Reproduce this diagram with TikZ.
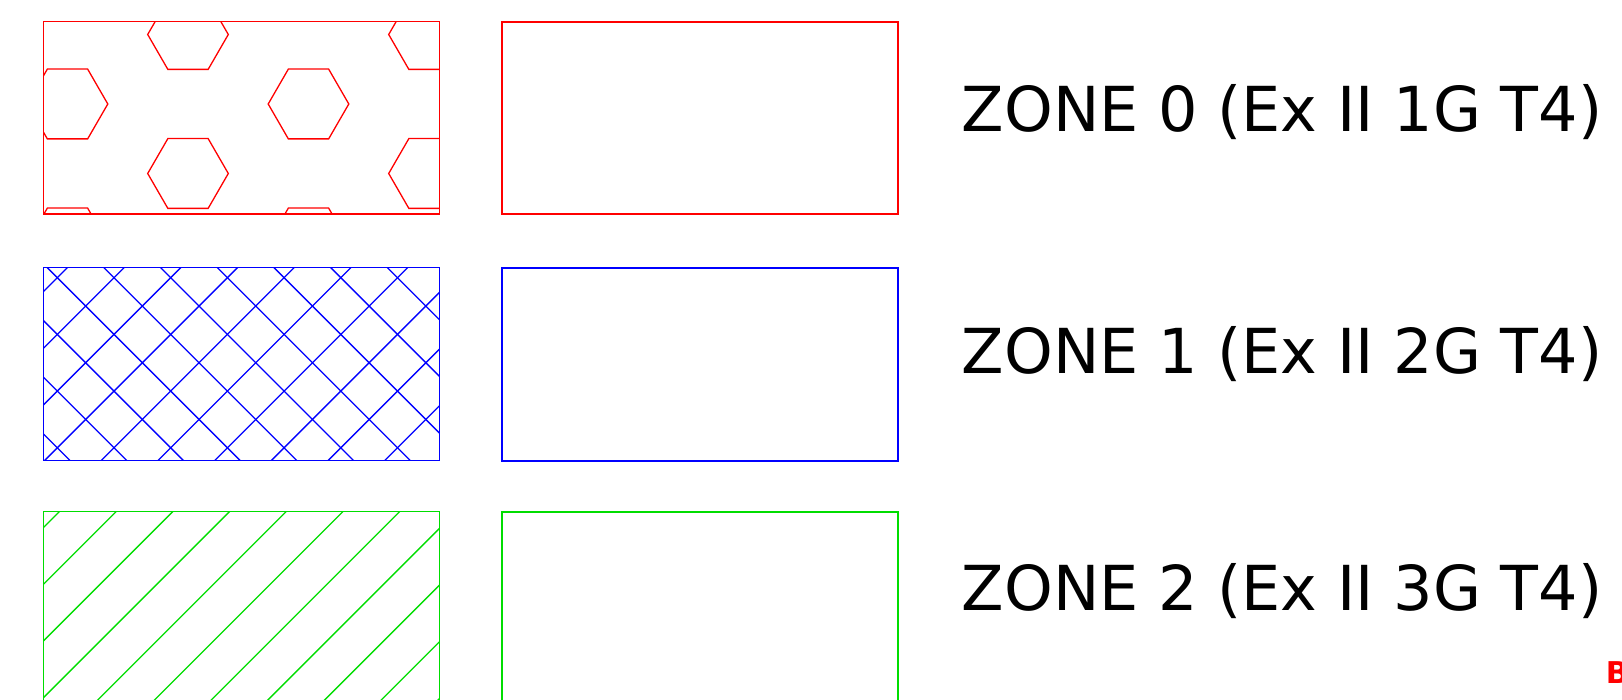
\documentclass[tikz,border=0pt]{standalone}
\usepackage{fontspec}
\setmainfont{DejaVu Sans}
\definecolor{zred}{HTML}{FF0000}
\definecolor{zblue}{HTML}{0000FF}
\definecolor{zgreen}{HTML}{00DD00}

\begin{document}
\begin{tikzpicture}[x=0.5pt, y=-0.5pt,
    hatch/.style={line width=0.65pt},
    frame/.style={line width=0.95pt},
    zonelabel/.style={anchor=base west, inner sep=0pt, font=\fontsize{31}{36}\selectfont}]
  \clip (0,0) rectangle (1622,700);
  \fill[white] (0,0) rectangle (1622,700);

  % Zone 0 - hexagon pattern
  \begin{scope}
    \clip (43.5,21.7) rectangle (439.3,214);
    \foreach \c in {0,...,3}{
      \pgfmathsetmacro{\cx}{67.5+120.5*\c}
      \pgfmathsetmacro{\cy}{mod(\c,2)==0 ? 104 : 34.5}
      \foreach \m in {-1,0,1}{
        \draw[zred, hatch, shift={(\cx,\cy+139*\m)}] (0:40.3) -- (60:40.3) -- (120:40.3)
          -- (180:40.3) -- (240:40.3) -- (300:40.3) -- cycle;
      }
    }
  \end{scope}
  \draw[zred, hatch] (43.5,21.7) rectangle (439.3,214);
  \draw[zred, frame] (502.3,22) rectangle (897.7,213.7);

  % Zone 1 - cross hatch
  \begin{scope}
    \clip (43.5,267.7) rectangle (439.3,460.7);
    \foreach \k in {-4,...,7}
      \draw[zblue, hatch] (57.3+56.7*\k-300,-22.3) -- ++(600,600);
    \foreach \k in {-1,...,11}
      \draw[zblue, hatch] (335+56.7*\k+22.3,-22.3) -- ++(-600,600);
  \end{scope}
  \draw[zblue, hatch] (43.5,267.7) rectangle (439.3,460.7);
  \draw[zblue, frame] (502.3,267.7) rectangle (897.7,460.7);

  % Zone 2 - single hatch
  \begin{scope}
    \clip (43.5,511.7) rectangle (439.3,704.5);
    \foreach \k in {-1,...,11}
      \draw[zgreen, hatch] (171+56.7*\k,400) -- ++(-400,400);
  \end{scope}
  \draw[zgreen, hatch] (43.5,511.7) rectangle (439.3,704.5);
  \draw[zgreen, frame] (502.3,511.7) rectangle (897.7,704.5);

  % Labels
  \node[zonelabel] (zone0) at (961.5,131.7) {ZONE 0 (Ex II 1G T4)};
  \node[zonelabel] (zone1) at (961.5,373.3) {ZONE 1 (Ex II 2G T4)};
  \node[zonelabel] (zone2) at (961.5,610) {ZONE 2 (Ex II 3G T4)};
  \node[anchor=base west, inner sep=0pt, zred, font=\fontsize{15}{18}\selectfont\bfseries] (bmark) at (1605.5,683) {B};
\end{tikzpicture}
\end{document}
